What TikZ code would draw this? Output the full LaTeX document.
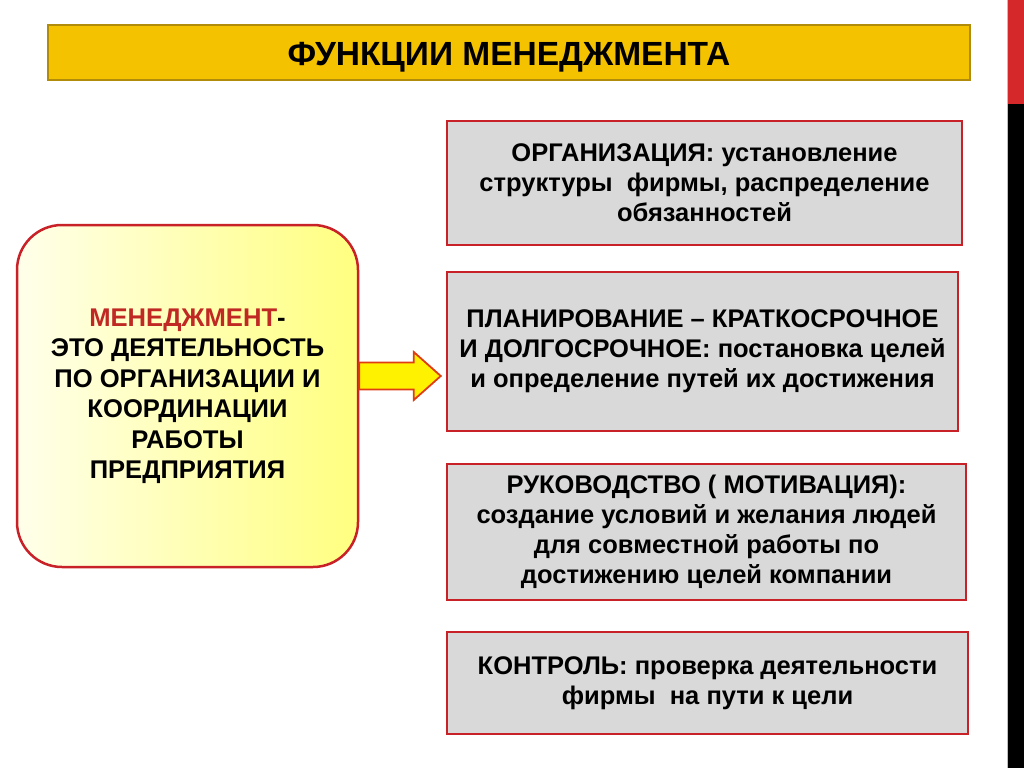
\documentclass[tikz,border=0pt]{standalone}
\usepackage{fontspec}
\setmainfont{Liberation Sans}
\usetikzlibrary{calc}
\definecolor{titlegold}{RGB}{245,194,0}
\definecolor{titleedge}{RGB}{176,140,10}
\definecolor{boxred}{RGB}{200,34,40}
\definecolor{boxgrey}{RGB}{217,217,217}
\definecolor{mgmtred}{RGB}{192,40,36}
\definecolor{stripred}{RGB}{212,40,42}
\definecolor{arrowedge}{RGB}{224,60,20}

\begin{document}
\begin{tikzpicture}[x=1pt, y=-1pt,
  titlebar/.style={draw=titleedge, line width=2.5pt, fill=titlegold, inner sep=0pt,
    text height=26.5pt, text depth=0pt, font=\fontsize{33.5}{38}\selectfont\bfseries},
  mgmtbox/.style={draw=boxred, line width=2.5pt, rounded corners=45pt, left color=yellow!8,
    right color=yellow!50, inner sep=0pt, align=center, font=\fontsize{25.6}{30.5}\selectfont\bfseries},
  funcbox/.style={draw=boxred, line width=2.5pt, fill=boxgrey, inner sep=0pt, align=center,
    minimum height=#1, font=\fontsize{25.5}{30}\selectfont\bfseries},
  fatarrow/.style={draw=arrowedge, line width=1.8pt, fill=yellow, line join=miter}]
\useasboundingbox (0,0) rectangle (1024,768);
% Streifen
\fill[stripred] (1008,0) rectangle (1024,104);
\fill[black] (1008,104) rectangle (1024,768);
\draw[gray!50, line width=0.8pt] (1007,0) -- (1007,768);
% Titel
\node[titlebar, minimum width=922pt, minimum height=55pt] (title) at (509,52.5) {ФУНКЦИИ МЕНЕДЖМЕНТА};
% Menedzhment
\node[mgmtbox, minimum width=341pt, minimum height=342pt] (mgmt) at (187.5,396)
  {{\color{mgmtred}МЕНЕДЖМЕНТ}-\\ЭТО ДЕЯТЕЛЬНОСТЬ\\ПО ОРГАНИЗАЦИИ И\\КООРДИНАЦИИ\\РАБОТЫ\\ПРЕДПРИЯТИЯ};
% Funktsii
\node[funcbox=124pt, minimum width=515pt] (org) at (704.5,183)
  {ОРГАНИЗАЦИЯ: установление\\структуры\ \ фирмы, распределение\\обязанностей};
\node[funcbox=159pt, minimum width=511pt] (plan) at (702.5,351.5)
  {ПЛАНИРОВАНИЕ – КРАТКОСРОЧНОЕ\\И ДОЛГОСРОЧНОЕ: постановка целей\\и определение путей их достижения};
\node[funcbox=136pt, minimum width=519pt] (lead) at (706.5,532)
  {РУКОВОДСТВО ( МОТИВАЦИЯ):\\создание условий и желания людей\\для совместной работы по\\достижению целей компании};
\node[funcbox=102pt, minimum width=521pt] (ctrl) at (707.5,683)
  {КОНТРОЛЬ: проверка деятельности\\фирмы\ \ на пути к цели};
% Strelka
\path (mgmt.east) ++(0,-20) coordinate (tail);
\path (plan.west) ++(-5,24.5) coordinate (tip);
\draw[fatarrow] ($(tail)+(0,-13.5)$) -- ($(tip)+(-27,-13.5)$) -- ($(tip)+(-27,-24)$) -- (tip)
  -- ($(tip)+(-27,24)$) -- ($(tip)+(-27,13.5)$) -- ($(tail)+(0,13.5)$) -- cycle;
\end{tikzpicture}
\end{document}
